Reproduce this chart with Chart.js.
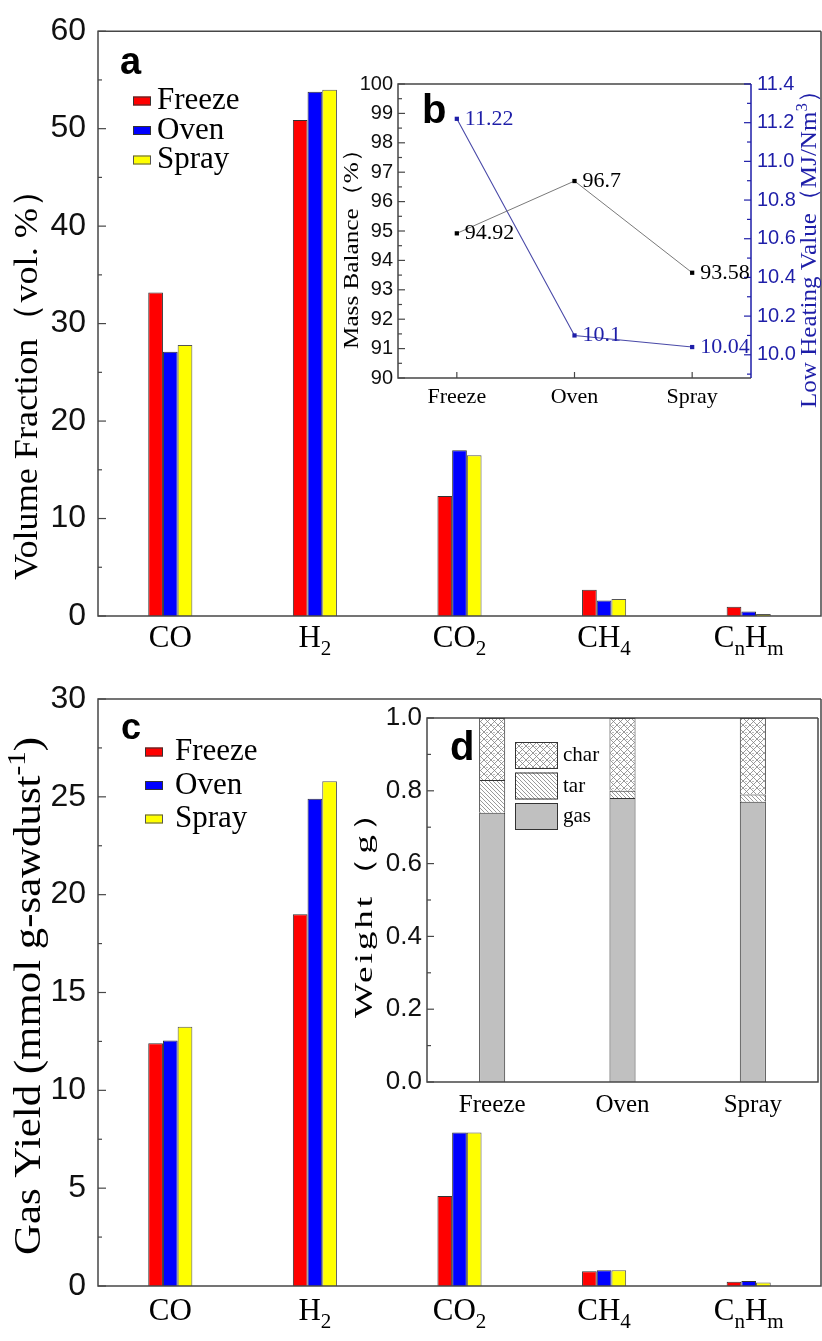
<!DOCTYPE html>
<html><head><meta charset="utf-8">
<script src="https://cdn.jsdelivr.net/npm/chart.js@4.4.1/dist/chart.umd.min.js"></script>
<style>
html,body{margin:0;padding:0;background:#fff}
#wrap{position:relative;width:822px;height:1341px;background:#fff;overflow:hidden}
#wrap canvas{position:absolute}
</style></head><body>
<div id="wrap">
<canvas id="cA" width="822" height="660" style="left:0px;top:0px"></canvas>
<canvas id="cB" width="492" height="360" style="left:330px;top:60px"></canvas>
<canvas id="cC" width="822" height="681" style="left:0px;top:660px"></canvas>
<canvas id="cD" width="492" height="440" style="left:330px;top:690px"></canvas>
</div>
<script>
// ---------------- data ----------------
const gasCategories = ['CO', 'H_{2}', 'CO_{2}', 'CH_{4}', 'C_{n}H_{m}'];
const methods = ['Freeze', 'Oven', 'Spray'];
const volFreeze = [33.2, 50.9, 12.3, 2.7, 0.95];
const volOven   = [27.1, 53.8, 17.0, 1.6, 0.47];
const volSpray  = [27.8, 54.0, 16.5, 1.75, 0.2];
const yieldFreeze = [12.4, 19.0, 4.6, 0.75, 0.22];
const yieldOven   = [12.55, 24.9, 7.85, 0.8, 0.25];
const yieldSpray  = [13.25, 25.8, 7.85, 0.8, 0.18];
const massBalance  = [94.92, 96.7, 93.58];
const heatingValue = [11.22, 10.1, 10.04];
const weightParts = ['gas', 'tar', 'char'];
const gasWeight  = [0.74, 0.78, 0.77];
const tarWeight  = [0.09, 0.02, 0.02];
const charWeight = [0.17, 0.20, 0.21];
const titleA = 'Volume Fraction（vol. %）';
const titleB1 = 'Mass Balance（%）';
const titleB2 = 'Low Heating Value（MJ/Nm^{3}）';
const titleC = 'Gas Yield (mmol g-sawdust^{-1})';
const titleD = 'Weight（g）';

// ---------------- style helpers ----------------
const SERIF = '"Liberation Serif","Times New Roman",serif';
const SANS = '"Liberation Sans",Arial,sans-serif';
const BLUE = '#1e1ea8';
const FRAME = '#474747';
Chart.defaults.animation = false;
Chart.defaults.responsive = false;
Chart.defaults.font.family = SANS;

function richSegs(str) {
  const segs = []; const re = /([_^])\{([^}]*)\}|([^_^]+)/g; let m;
  while ((m = re.exec(str))) { if (m[1]) segs.push({t: m[2], k: m[1]}); else segs.push({t: m[3], k: ''}); }
  return segs;
}
function drawRich(ctx, str, x, y, o) {
  const size = o.size, fam = o.family || SERIF, wt = o.weight || 'normal', sc = o.subScale || 0.68;
  const segs = richSegs(str);
  ctx.save();
  ctx.translate(x, y); if (o.rotate) ctx.rotate(o.rotate);
  ctx.fillStyle = o.color || '#000';
  ctx.textBaseline = o.base || 'middle'; ctx.textAlign = 'left';
  ctx.letterSpacing = o.ls || '0px';
  let w = 0; const ws = [];
  segs.forEach(s => { ctx.font = `${wt} ${s.k ? size * sc : size}px ${fam}`; const mw = ctx.measureText(s.t).width; ws.push(mw); w += mw; });
  if (o.fit) ctx.scale(o.fit / w, 1);
  let cx = o.align === 'left' ? 0 : (o.align === 'right' ? -w : -w / 2);
  segs.forEach((s, i) => {
    ctx.font = `${wt} ${s.k ? size * sc : size}px ${fam}`;
    const dy = s.k === '_' ? size * 0.34 : (s.k === '^' ? -size * 0.32 : 0);
    ctx.fillText(s.t, cx, dy); cx += ws[i];
  });
  ctx.restore();
}
function frame(ctx, ca, color, rightColor) {
  ctx.save(); ctx.lineWidth = 1.5; ctx.strokeStyle = color;
  ctx.beginPath();
  ctx.moveTo(ca.right, ca.top); ctx.lineTo(ca.left, ca.top); ctx.lineTo(ca.left, ca.bottom); ctx.lineTo(ca.right, ca.bottom);
  if (!rightColor) ctx.lineTo(ca.right, ca.top);
  ctx.stroke();
  if (rightColor) { ctx.strokeStyle = rightColor; ctx.beginPath(); ctx.moveTo(ca.right, ca.top); ctx.lineTo(ca.right, ca.bottom); ctx.stroke(); }
  ctx.restore();
}
function inTicks(chart, id, side, major, minor, color) {
  const s = chart.scales[id], ca = chart.chartArea, ctx = chart.ctx;
  ctx.save(); ctx.strokeStyle = color; ctx.lineWidth = 1.2;
  s.ticks.forEach((t, i) => {
    const p = side === 'bottom' ? s.getPixelForValue(i) : s.getPixelForValue(t.value);
    const len = (t.label === '' || t.label === undefined) ? minor : major;
    ctx.beginPath();
    if (side === 'left') { ctx.moveTo(ca.left, p); ctx.lineTo(ca.left + len, p); }
    else if (side === 'right') { ctx.moveTo(ca.right, p); ctx.lineTo(ca.right - len, p); }
    else { ctx.moveTo(p, ca.bottom); ctx.lineTo(p, ca.bottom - len); }
    ctx.stroke();
  });
  ctx.restore();
}
function catLabels(chart, y, size, color) {
  const s = chart.scales.x;
  chart.data.labels.forEach((l, i) => drawRich(chart.ctx, l, s.getPixelForValue(i), y, {size, family: SERIF, color}));
}
function barLegend(chart, x, y, dy, o) {
  const ctx = chart.ctx;
  chart.data.datasets.forEach((ds, i) => {
    const yy = y + i * dy;
    ctx.save(); ctx.fillStyle = ds.backgroundColor; ctx.strokeStyle = ds.borderColor; ctx.lineWidth = 1;
    ctx.fillRect(x, yy - o.bh / 2, o.bw, o.bh); ctx.strokeRect(x + 0.5, yy - o.bh / 2 + 0.5, o.bw - 1, o.bh - 1); ctx.restore();
    drawRich(ctx, ds.label, x + o.bw + o.gap, yy, {size: o.size, family: SERIF, align: 'left'});
  });
}
function overlay(fn) { return {id: 'ov', afterDraw(chart) { chart.ctx.save(); fn(chart, chart.ctx, chart.chartArea); chart.ctx.restore(); }}; }
function yLin(min, max, step, size, pad, width, labelFn, color) {
  return {min, max, border: {display: false}, grid: {display: false, drawTicks: false},
    ticks: {stepSize: step, autoSkip: false, padding: pad, font: {family: SANS, size}, color: color || '#111', callback: labelFn},
    afterFit(s) { s.width = width; }};
}
function xCat(height, extra) {
  return Object.assign({display: true, border: {display: false}, grid: {display: false, drawTicks: false}, ticks: {display: false}, afterFit(s) { s.height = height; }}, extra || {});
}
function barSet(label, data, bg, bd) { return {label, data, backgroundColor: bg, borderColor: bd, borderWidth: 1, barPercentage: 1, categoryPercentage: 0.305}; }

// ---------------- chart a ----------------
new Chart(document.getElementById('cA'), {
  type: 'bar',
  data: {labels: gasCategories, datasets: [
    barSet(methods[0], volFreeze, '#ff0000', '#333'),
    barSet(methods[1], volOven, '#0000ff', '#333'),
    barSet(methods[2], volSpray, '#ffff00', '#555')]},
  options: {
    layout: {padding: {top: 29, right: 1, left: 0, bottom: 0}},
    plugins: {legend: {display: false}, tooltip: {enabled: false}},
    scales: {x: xCat(44), y: yLin(0, 60, 5, 32, 12, 98, v => v % 10 === 0 ? String(v) : '')}
  },
  plugins: [overlay((chart, ctx, ca) => {
    frame(ctx, ca, FRAME);
    inTicks(chart, 'y', 'left', 8, 4, FRAME);
    catLabels(chart, ca.bottom + 23, 31, '#000');
    drawRich(ctx, titleA, 28, 376, {size: 34, rotate: -Math.PI / 2, fit: 408});
    drawRich(ctx, 'a', 120, 74, {size: 38, family: SANS, weight: 'bold', base: 'alphabetic', align: 'left'});
    barLegend(chart, 133, 101, 29.5, {bw: 18, bh: 9, gap: 6, size: 31});
  })]
});

// ---------------- chart b ----------------
const oB = {x: 330, y: 60};
new Chart(document.getElementById('cB'), {
  type: 'line',
  data: {labels: methods, datasets: [
    {label: 'Mass Balance', data: massBalance, yAxisID: 'y', borderColor: '#6a6a6a', borderWidth: 0.9, tension: 0,
     pointStyle: 'rect', pointRadius: 3, pointBackgroundColor: '#000', pointBorderColor: '#000', pointBorderWidth: 0},
    {label: 'Low Heating Value', data: heatingValue, yAxisID: 'y1', borderColor: '#4a4aa8', borderWidth: 1.1, tension: 0,
     pointStyle: 'rect', pointRadius: 3, pointBackgroundColor: BLUE, pointBorderColor: BLUE, pointBorderWidth: 0}]},
  options: {
    layout: {padding: {top: 24, right: 0, left: 0, bottom: 0}},
    plugins: {legend: {display: false}, tooltip: {enabled: false}},
    scales: {
      x: xCat(42, {offset: true}),
      y: Object.assign(yLin(90, 100, 0.5, 20, 5, 68, v => Number.isInteger(v) ? String(v) : ''), {position: 'left'}),
      y1: Object.assign(yLin(9.88, 11.4, 0.1, 20, 6, 71, v => Math.round(v * 10) % 2 === 0 ? v.toFixed(1) : '', BLUE), {
        position: 'right',
        afterBuildTicks(s) { const t = []; for (let k = 99; k <= 114; k++) t.push({value: k / 10}); s.ticks = t; }
      })
    }
  },
  plugins: [overlay((chart, ctx, ca) => {
    frame(ctx, ca, FRAME, BLUE);
    inTicks(chart, 'y', 'left', 7, 4, FRAME);
    inTicks(chart, 'y1', 'right', 7, 4, BLUE);
    inTicks(chart, 'x', 'bottom', 6, 6, FRAME);
    catLabels(chart, ca.bottom + 19, 22, '#000');
    chart.data.datasets.forEach((ds, di) => {
      chart.getDatasetMeta(di).data.forEach((pt, i) => {
        drawRich(ctx, String(ds.data[i]), pt.x + 8, pt.y, {size: 22, family: SERIF, color: ds.pointBackgroundColor, align: 'left'});
      });
    });
    drawRich(ctx, titleB1, 352 - oB.x, 243 - oB.y, {size: 22, rotate: -Math.PI / 2, fit: 212});
    drawRich(ctx, titleB2, 810 - oB.x, 243 - oB.y, {size: 24, rotate: -Math.PI / 2, color: BLUE, fit: 330});
    drawRich(ctx, 'b', 422 - oB.x, 123 - oB.y, {size: 40, family: SANS, weight: 'bold', base: 'alphabetic', align: 'left'});
  })]
});

// ---------------- chart c ----------------
const oC = {x: 0, y: 660};
new Chart(document.getElementById('cC'), {
  type: 'bar',
  data: {labels: gasCategories, datasets: [
    barSet(methods[0], yieldFreeze, '#ff0000', '#333'),
    barSet(methods[1], yieldOven, '#0000ff', '#333'),
    barSet(methods[2], yieldSpray, '#ffff00', '#555')]},
  options: {
    layout: {padding: {top: 39, right: 1, left: 0, bottom: 0}},
    plugins: {legend: {display: false}, tooltip: {enabled: false}},
    scales: {x: xCat(55), y: yLin(0, 30, 2.5, 32, 12, 98, v => v % 5 === 0 ? String(v) : '')}
  },
  plugins: [overlay((chart, ctx, ca) => {
    frame(ctx, ca, FRAME);
    inTicks(chart, 'y', 'left', 8, 4, FRAME);
    catLabels(chart, ca.bottom + 26, 31, '#000');
    drawRich(ctx, titleC, 30 - oC.x, 996 - oC.y, {size: 38, rotate: -Math.PI / 2, fit: 518});
    drawRich(ctx, 'c', 121 - oC.x, 739 - oC.y, {size: 36, family: SANS, weight: 'bold', base: 'alphabetic', align: 'left'});
    barLegend(chart, 145 - oC.x, 752 - oC.y, 33.5, {bw: 18, bh: 9, gap: 12, size: 31});
  })]
});

// ---------------- chart d ----------------
const oD = {x: 330, y: 690};
function makePattern(kind) {
  const n = kind === 'tar' ? 4 : 7;
  const c = document.createElement('canvas'); c.width = c.height = n;
  const g = c.getContext('2d'); g.fillStyle = '#fff'; g.fillRect(0, 0, n, n);
  g.strokeStyle = '#808080'; g.lineWidth = 0.8; g.beginPath();
  if (kind === 'tar') { g.moveTo(-1, -1); g.lineTo(n + 1, n + 1); g.moveTo(-1, n - 1); g.lineTo(1, n + 1); g.moveTo(n - 1, -1); g.lineTo(n + 1, 1); }
  else { g.moveTo(0, 0); g.lineTo(n, n); g.moveTo(n, 0); g.lineTo(0, n); }
  g.stroke();
  if (kind === 'char') { g.fillStyle = '#777'; g.fillRect(Math.floor(n / 2) - 0.5, 0, 1, 1); }
  return document.getElementById('cD').getContext('2d').createPattern(c, 'repeat');
}
const partFill = {gas: '#c0c0c0', tar: makePattern('tar'), char: makePattern('char')};
function stackSet(label, data) { return {label, data, backgroundColor: partFill[label], borderColor: '#333', borderWidth: 1, barPercentage: 0.2, categoryPercentage: 1}; }
new Chart(document.getElementById('cD'), {
  type: 'bar',
  data: {labels: methods, datasets: [
    stackSet(weightParts[0], gasWeight), stackSet(weightParts[1], tarWeight), stackSet(weightParts[2], charWeight)]},
  options: {
    layout: {padding: {top: 28, right: 4, left: 0, bottom: 0}},
    plugins: {legend: {display: false}, tooltip: {enabled: false}},
    scales: {
      x: xCat(48, {stacked: true}),
      y: Object.assign(yLin(0, 1, 0.1, 26, 5, 97, v => Math.round(v * 10) % 2 === 0 ? v.toFixed(1) : ''), {stacked: true})
    }
  },
  plugins: [overlay((chart, ctx, ca) => {
    frame(ctx, ca, FRAME);
    inTicks(chart, 'y', 'left', 7, 4, FRAME);
    catLabels(chart, ca.bottom + 23, 25, '#000');
    drawRich(ctx, titleD, 365 - oD.x, 905 - oD.y, {size: 26, rotate: -Math.PI / 2, ls: '2px', fit: 226});
    drawRich(ctx, 'd', 450 - oD.x, 760 - oD.y, {size: 40, family: SANS, weight: 'bold', base: 'alphabetic', align: 'left'});
    const ds = chart.data.datasets.slice().reverse();
    ds.forEach((d, i) => {
      const top = 742 - oD.y + i * 30.5;
      ctx.save(); ctx.fillStyle = d.backgroundColor; ctx.fillRect(515 - oD.x, top, 43, 27);
      ctx.strokeStyle = '#333'; ctx.lineWidth = 1; ctx.strokeRect(515 - oD.x + 0.5, top + 0.5, 42, 26); ctx.restore();
      drawRich(ctx, d.label, 563 - oD.x, top + 13.5, {size: 21, family: SERIF, align: 'left'});
    });
  })]
});
</script>
</body></html>
